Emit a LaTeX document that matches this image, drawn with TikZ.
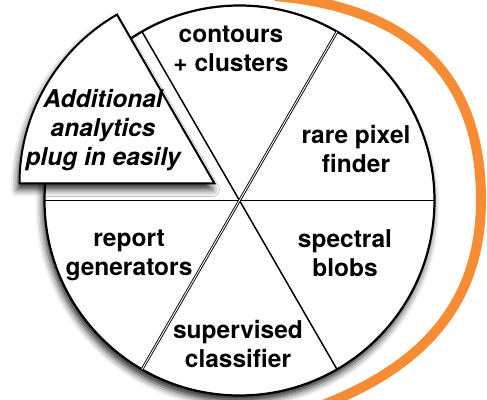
\documentclass[tikz,border=0pt]{standalone}
\usepackage{fontspec}
\setmainfont{TeX Gyre Heros}
\usetikzlibrary{shadows.blur}
\definecolor{orng}{RGB}{248,140,52}
\begin{document}
\begin{tikzpicture}[x=1pt,y=1pt,
  lbl/.style={font=\fontsize{24.5}{29}\selectfont\bfseries, align=center, inner sep=0pt},
  ilbl/.style={font=\fontsize{24.5}{29}\selectfont\bfseries\itshape, align=center, inner sep=0pt},
  rim/.style={draw=black, line width=2.2pt, fill=white},
  spoke/.style={draw=black, line width=1.5pt},
  dspoke/.style={draw=black, line width=0.9pt, double=white, double distance=0.9pt},
  pshadow/.style={blur shadow={shadow xshift=-2pt, shadow yshift=-6pt, shadow blur radius=7pt, shadow opacity=85}}]
\useasboundingbox (0,0) rectangle (487,399);
\coordinate (C) at (239.5,198.5);
\draw[orng, line width=10pt] (275,403) .. controls (410,391) and (481,324) .. (481,199) .. controls (481,89) and (415,28) .. (315,-9);
\path[rim, pshadow] (C) circle[radius=195];
\draw[spoke] (C) ++(180:195) -- ++(0:390);
\draw[spoke] (C) ++(120:195) -- ++(300:390);
\draw[dspoke] (C) ++(60:195) -- ++(240:390);
\coordinate (A) at (214.5,215.5);
\path[rim, pshadow, line width=2pt] (A) -- ++(180:195) arc[start angle=180, end angle=120, radius=195] -- cycle;
\node[lbl] (contours) at (231,350.5) {contours\\+ clusters};
\node[lbl] (rare) at (356,250.5) {rare pixel\\finder};
\node[lbl] (spectral) at (345,146) {spectral\\blobs};
\node[lbl] (report) at (129,143.5) {report\\generators};
\node[lbl] (supervised) at (238,55) {supervised\\classifier};
\node[ilbl] (additional) at (103,269.3) {Additional\\analytics\\plug in easily};
\end{tikzpicture}
\end{document}
